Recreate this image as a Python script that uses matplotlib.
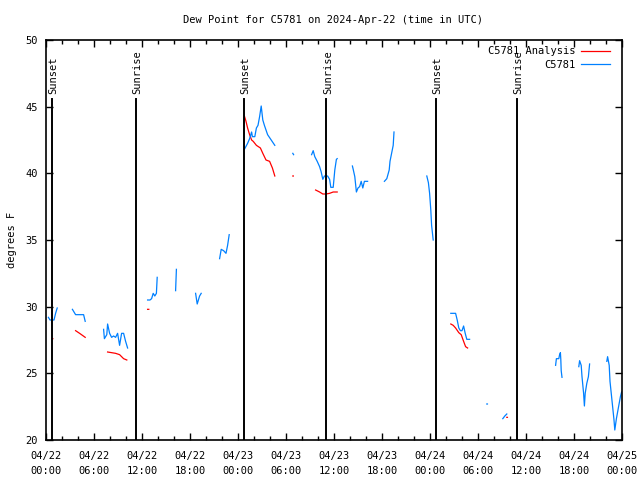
import numpy as np
import matplotlib
matplotlib.use("Agg")
import matplotlib.pyplot as plt

nan = np.nan

# hours since 2024-04-22 00:00 UTC
obs_hours = [0.3, 0.5, 0.8, 1.0, 1.2, 1.4, nan,
             3.3, 3.7, 4.7, 4.9, nan,
             7.2, 7.3, 7.6, 7.7, 7.95, 8.2, 8.45, 8.7, 8.95, 9.2, 9.45, 9.7, 9.95, 10.2, nan,
             12.7, 13.0, 13.2, 13.4, 13.6, 13.8, 13.9, nan,
             16.2, 16.3, nan,
             18.7, 18.9, 19.2, 19.4, nan,
             21.7, 21.9, 22.2, 22.5, 22.7, 22.8, 22.9, nan,
             24.8, 25.2, 25.45, 25.7, 25.8, 26.1, 26.3, 26.5, 26.7, 26.9, 27.1, 27.3, 27.7, 28.15, 28.6, nan,
             30.85, 30.95, nan,
             33.2, 33.4, 33.6, 33.9, 34.2, 34.4, 34.6, 34.8, 35.2, 35.45, 35.6, 35.9, 36.1, 36.3, 36.4, nan,
             38.3, 38.4, 38.6, 38.8, 39.0, 39.2, 39.4, 39.6, 39.8, 40.2, nan,
             42.3, 42.6, 42.9, 43.0, 43.2, 43.4, 43.5, nan,
             47.6, 47.8, 47.95, 48.1, 48.2, 48.4, nan,
             50.6, 51.2, 51.4, 51.6, 51.8, 52.0, 52.2, 52.4, 52.6, 52.95, nan,
             55.1, 55.18, nan,
             57.1, 57.35, 57.6, nan,
             63.7, 63.8, 64.1, 64.2, 64.3, 64.35, 64.4, 64.5, nan,
             66.6, 66.7, 66.9, 67.0, 67.2, 67.3, 67.4, 67.6, 67.8, 67.95, nan,
             70.1, 70.2, 70.4, 70.5, 70.7, 70.9, 71.0, 71.1, 71.3, 71.45, 71.6, 71.8, 71.95]
obs_dewpt = [29.2, 29.0, 29.0, 29.0, 29.5, 29.9, nan,
             29.8, 29.4, 29.4, 28.9, nan,
             28.3, 27.6, 27.9, 28.7, 28.0, 27.7, 27.8, 27.7, 28.0, 27.1, 28.0, 28.0, 27.4, 26.9, nan,
             30.5, 30.5, 30.6, 31.0, 30.8, 31.0, 32.2, nan,
             31.2, 32.8, nan,
             31.0, 30.2, 30.8, 31.0, nan,
             33.6, 34.3, 34.2, 34.0, 34.6, 35.0, 35.4, nan,
             41.8, 42.25, 42.6, 43.1, 42.75, 42.75, 43.4, 43.6, 44.25, 45.05, 44.0, 43.6, 42.9, 42.5, 42.1, nan,
             41.5, 41.4, nan,
             41.4, 41.7, 41.25, 40.9, 40.5, 40.1, 39.55, 39.8, 39.8, 39.55, 38.95, 38.95, 40.25, 41.05, 41.1, nan,
             40.55, 40.3, 39.75, 38.6, 38.9, 39.0, 39.4, 38.9, 39.4, 39.4, nan,
             39.4, 39.6, 40.25, 40.9, 41.5, 42.1, 43.1, nan,
             39.8, 39.3, 38.5, 37.25, 36.1, 35.0, nan,
             29.5, 29.5, 29.0, 28.4, 28.2, 28.2, 28.55, 28.0, 27.55, 27.55, nan,
             22.7, 22.7, nan,
             21.6, 21.8, 21.95, nan,
             25.6, 26.1, 26.1, 26.4, 26.55, 26.05, 25.2, 24.7, nan,
             25.5, 25.95, 25.6, 24.75, 23.5, 22.55, 23.5, 24.25, 24.75, 25.7, nan,
             25.9, 26.25, 25.6, 24.4, 23.25, 22.1, 21.5, 20.75, 21.6, 22.1, 22.6, 23.25, 23.6]

ana_hours = [0.75, 0.85, nan,
             3.7, 4.2, 4.9, nan,
             7.7, 8.2, 8.7, 9.2, 9.7, 10.1, nan,
             12.7, 12.85, nan,
             24.8, 25.0, 25.2, 25.45, 25.7, 25.9, 26.3, 26.8, 27.1, 27.5, 27.95, 28.3, 28.6, nan,
             30.85, 30.92, nan,
             33.7, 34.2, 34.6, 35.0, 35.45, 35.9, 36.4, nan,
             50.6, 50.9, 51.2, 51.6, 51.9, 52.2, 52.45, 52.7, nan,
             57.6, 57.68]
ana_dewpt = [27.6, 27.6, nan,
             28.2, 28.0, 27.7, nan,
             26.6, 26.55, 26.5, 26.4, 26.1, 26.0, nan,
             29.8, 29.8, nan,
             44.3, 43.9, 43.4, 42.9, 42.5, 42.4, 42.1, 41.9, 41.5, 41.0, 40.9, 40.4, 39.8, nan,
             39.8, 39.8, nan,
             38.75, 38.6, 38.45, 38.45, 38.5, 38.6, 38.6, nan,
             28.7, 28.6, 28.4, 28.05, 27.9, 27.4, 27.0, 26.9, nan,
             21.7, 21.7]

sun_hours = [0.75, 11.2, 24.75, 35.05, 48.75, 58.85]
sun_labels = ["Sunset", "Sunrise", "Sunset", "Sunrise", "Sunset", "Sunrise"]

tick_hours = list(range(0, 73, 6))
tick_labels = ["04/22\n00:00", "04/22\n06:00", "04/22\n12:00", "04/22\n18:00",
               "04/23\n00:00", "04/23\n06:00", "04/23\n12:00", "04/23\n18:00",
               "04/24\n00:00", "04/24\n06:00", "04/24\n12:00", "04/24\n18:00",
               "04/25\n00:00"]

plt.rcParams['font.family'] = ['DejaVu Sans Mono']
fs = 7.5

fig = plt.figure(figsize=(6.4, 4.8), dpi=100)
ax = fig.add_axes([46 / 640, 40 / 480, 576 / 640, 400 / 480])

ax.plot(ana_hours, ana_dewpt, color='#ff0000', lw=0.9, label='C5781 Analysis')
ax.plot(obs_hours, obs_dewpt, color='#0080ff', lw=0.9, label='C5781')

for h, lab in zip(sun_hours, sun_labels):
    ax.plot([h, h], [20, 45.55], color='black', lw=1.4)
    ax.text(h + 0.2, 45.95, lab, rotation=90, ha='center', va='bottom', fontsize=fs)

ax.set_xlim(0, 72)
ax.set_ylim(20, 50)
ax.set_xticks(tick_hours)
ax.set_xticklabels(tick_labels, fontsize=fs, linespacing=1.6)
ax.set_xticks(range(0, 73, 2), minor=True)
ax.set_yticks(range(20, 51, 5))
ax.tick_params(axis='y', labelsize=fs)
ax.tick_params(which='both', direction='in', top=True, right=True, width=1)
ax.tick_params(which='major', length=5, pad=6)
ax.tick_params(axis='x', which='major', pad=8)
ax.tick_params(which='minor', length=3)
for s in ax.spines.values():
    s.set_linewidth(1.2)

ax.set_ylabel('degrees F', fontsize=fs, labelpad=6)
fig.text(0.52, 1 - 20 / 480, 'Dew Point for C5781 on 2024-Apr-22 (time in UTC)',
         ha='center', va='center', fontsize=fs)

ax.legend(loc='upper right', frameon=False, fontsize=fs, handlelength=2.8,
          handletextpad=0.5, markerfirst=False, borderaxespad=0.2,
          labelspacing=0.35, bbox_to_anchor=(0.99, 1.0))

fig.savefig('out.png', dpi=100)
